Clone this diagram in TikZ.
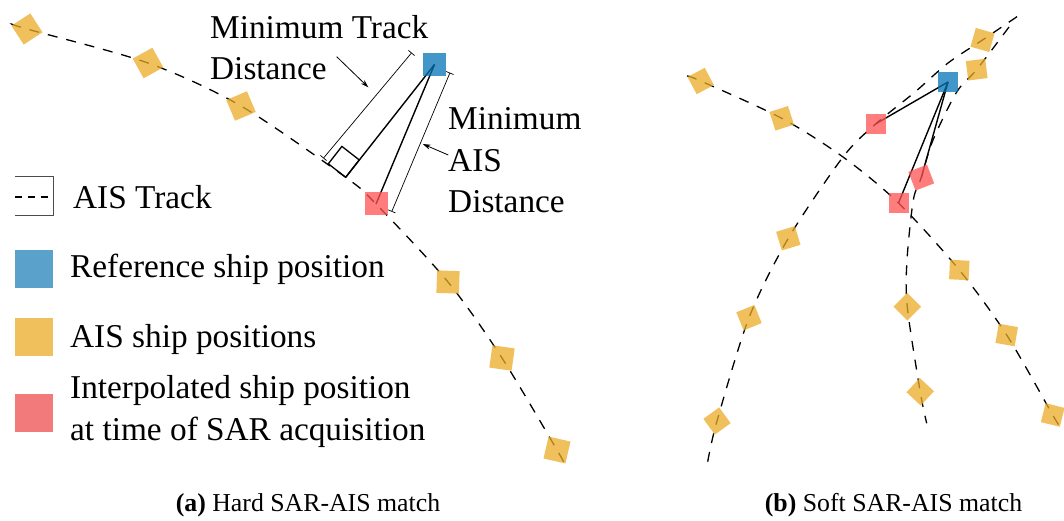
\documentclass[tikz,border=0pt]{standalone}
\usepackage{fontspec}
\setmainfont{Liberation Serif}
\usetikzlibrary{arrows.meta,backgrounds}

\definecolor{refblue}{RGB}{4,115,182}
\definecolor{aisyellow}{RGB}{235,171,38}
\definecolor{interpred}{RGB}{255,82,82}
\definecolor{legblue}{RGB}{90,162,204}
\definecolor{legyellow}{RGB}{240,192,92}
\definecolor{legred}{RGB}{242,122,122}

\tikzset{
  shipbox/.style={shape=rectangle, inner sep=0pt, outer sep=0pt,
    minimum size=#1, fill opacity=0.75},
  ais/.style={shipbox=#1, fill=aisyellow},
  refpos/.style={shipbox=#1, fill=refblue},
  intpos/.style={shipbox=#1, fill=interpred},
  swatch/.style={shape=rectangle, inner sep=0pt, minimum size=38pt},
  track/.style={line width=1.3pt, dash pattern=on 10pt off 9pt},
  link/.style={line width=1.4pt},
  dimline/.style={line width=0.7pt, {Bar[width=8pt]}-{Bar[width=8pt]}},
  callout/.style={line width=0.8pt, -{Stealth[length=8pt,width=5pt]}},
  lbl/.style={font=\fontsize{33.3}{41}\selectfont, inner sep=0pt, anchor=base west},
  captext/.style={font=\fontsize{25.8}{30}\selectfont, inner sep=0pt, anchor=base},
}

\begin{document}
\begin{tikzpicture}[x=1pt, y=-1pt]
\useasboundingbox (0,0) rectangle (1064,521);

% ---------- (a) hard match ----------
\node[ais=22.5pt, rotate=33]  (yL1) at (27,29) {};
\node[ais=22.5pt, rotate=29]  (yL2) at (148,63) {};
\node[ais=22.5pt, rotate=23]  (yL3) at (241,106) {};
\node[intpos=23pt]            (iL)  at (376,204) {};
\node[ais=22.5pt, rotate=-2]  (yL4) at (448,282) {};
\node[ais=22.5pt, rotate=-8]  (yL5) at (502,358) {};
\node[ais=22.5pt, rotate=-13] (yL6) at (557,450) {};
\node[refpos=23pt]            (rL)  at (434.5,64.5) {};

\coordinate (tL0) at (12,24);
\coordinate (tLe) at (564,463);
\coordinate (ftL) at (345.7,177.3);
\coordinate (raA) at (328.3,163.8);
\coordinate (raB) at (341.9,146.4);
\coordinate (raC) at (359.2,159.9);

\begin{scope}[on background layer]
  \draw[track] plot[smooth] coordinates {(tL0) (yL1.center) (yL2.center)
    (yL3.center) (ftL) (iL.center) (yL4.center) (yL5.center) (yL6.center) (tLe)};
  \draw[link] (rL.center) -- (iL.center);
  \draw[link] (rL.center) -- (ftL);
  \draw[line width=1.3pt] (ftL) -- (raA) -- (raB) -- (raC) -- cycle;
\end{scope}

% dimension lines
\coordinate (dTa) at (323.3,158.3);
\coordinate (dTb) at (411.7,52.7);
\coordinate (dAa) at (391.7,211.7);
\coordinate (dAb) at (450,72.7);
\draw[dimline] (dTa) -- (dTb);
\draw[dimline] (dAa) -- (dAb);

% labels with callouts
\node[lbl] (mtd1) at (210,39) {Minimum Track};
\node[lbl] (mtd2) at (210,80) {Distance};
\node[lbl] (mad1) at (448,130) {Minimum};
\node[lbl] (mad2) at (448,172) {AIS};
\node[lbl] (mad3) at (448,213) {Distance};
\coordinate (cTs) at (336.7,56.7);
\coordinate (cTe) at (368.3,87.3);
\coordinate (cAs) at (448.3,155);
\coordinate (cAe) at (422.7,144);
\draw[callout] (cTs) -- (cTe);
\draw[callout] (cAs) -- (cAe);

% legend
\coordinate (kb1) at (15,177);
\coordinate (kb2) at (53,177);
\coordinate (kb3) at (53,216);
\coordinate (kb4) at (15,216);
\coordinate (kd1) at (15,197);
\coordinate (kd2) at (53,197);
\draw[line width=1pt, black!70] (kb1) -- (kb2) -- (kb3) -- (kb4);
\draw[line width=1.3pt, dash pattern=on 7pt off 6pt] (kd1) -- (kd2);
\node[lbl] (kTrack) at (73,208) {AIS Track};
\node[swatch, fill=legblue]   (kRef) at (34,269) {};
\node[lbl] (kRefT) at (70,277) {Reference ship position};
\node[swatch, fill=legyellow] (kAis) at (34,337) {};
\node[lbl] (kAisT) at (70,347) {AIS ship positions};
\node[swatch, fill=legred]    (kInt) at (34,413) {};
\node[lbl] (kIntT1) at (70,398) {Interpolated ship position};
\node[lbl] (kIntT2) at (70,440) {at time of SAR acquisition};

\node[captext] (capA) at (308,511) {\textbf{(a)} Hard SAR-AIS match};

% ---------- (b) soft match ----------
\node[ais=19.5pt, rotate=28]  (yA1) at (700.7,81) {};
\node[ais=19.5pt, rotate=18]  (yA2) at (781.7,118.3) {};
\node[intpos=20pt]            (iA)  at (898.5,203) {};
\node[ais=19.5pt, rotate=-3]  (yA3) at (959.3,270) {};
\node[ais=19.5pt, rotate=-10] (yA4) at (1006.7,335) {};
\node[ais=19.5pt, rotate=-14] (yA5) at (1052.7,415) {};

\node[ais=19.5pt, rotate=36]  (yB1) at (717,421) {};
\node[ais=19.5pt, rotate=22]  (yB2) at (749,317.7) {};
\node[ais=19.5pt, rotate=17]  (yB3) at (788.3,238.3) {};
\node[intpos=20pt]            (iB)  at (876,123.7) {};
\node[ais=19.5pt, rotate=-16] (yB4) at (982.5,40) {};

\node[ais=19.5pt, rotate=7]   (yC1) at (976.7,69.6) {};
\node[intpos=20pt, rotate=21] (iC)  at (921.25,177.6) {};
\node[ais=19.5pt, rotate=45]  (yC2) at (907.25,306.7) {};
\node[ais=19.5pt, rotate=47]  (yC3) at (920.2,391.75) {};

\node[refpos=20pt] (rR) at (948,82) {};

\coordinate (tA0) at (687,76);
\coordinate (tAx) at (843,157);
\coordinate (tAe) at (1062,430);
\coordinate (tB0) at (707.7,461.7);
\coordinate (tBm) at (915,92);
\coordinate (tBn) at (948,63);
\coordinate (tBe) at (1018,16);
\coordinate (tC0) at (1009,27);
\coordinate (tCm) at (956.7,92);
\coordinate (tCn) at (933,140);
\coordinate (tCp) at (913.3,200);
\coordinate (tCq) at (907,260);
\coordinate (tCe) at (926.7,423.3);

\begin{scope}[on background layer]
  \draw[track] plot[smooth] coordinates {(tA0) (yA1.center) (yA2.center)
    (tAx) (iA.center) (yA3.center) (yA4.center) (yA5.center) (tAe)};
  \draw[track] plot[smooth] coordinates {(tB0) (yB1.center) (yB2.center)
    (yB3.center) (tAx) (iB.center) (tBm) (tBn) (yB4.center) (tBe)};
  \draw[track] plot[smooth] coordinates {(tC0) (yC1.center) (tCm) (tCn)
    (iC.center) (tCp) (tCq) (yC2.center) (yC3.center) (tCe)};
  \draw[link] (rR.center) -- (iB.center);
  \draw[link] (rR.center) -- (iA.center);
  \draw[link] (rR.center) -- (iC.center);
\end{scope}

\node[captext] (capB) at (893.5,511) {\textbf{(b)} Soft SAR-AIS match};
\end{tikzpicture}
\end{document}
